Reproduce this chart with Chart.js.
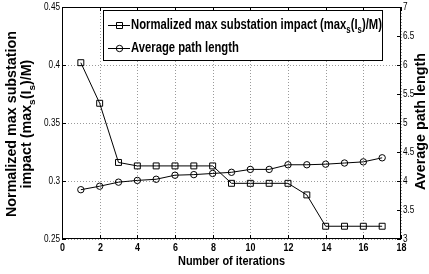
<!DOCTYPE html>
<html>
<head>
<meta charset="utf-8">
<script src="https://cdn.jsdelivr.net/npm/chart.js@4.4.1/dist/chart.umd.min.js"></script>
<style>
  html, body { margin: 0; padding: 0; background: #fff; }
  #wrap { width: 429px; height: 274px; }
</style>
</head>
<body>
<div id="wrap"><canvas id="chart"></canvas></div>
<script>
const iterations = [1, 2, 3, 4, 5, 6, 7, 8, 9, 10, 11, 12, 13, 14, 15, 16, 17];
const maxImpact = [0.402, 0.367, 0.316, 0.313, 0.313, 0.313, 0.313, 0.313, 0.298, 0.298, 0.298, 0.298, 0.288, 0.261, 0.261, 0.261, 0.261];
const pathLength = [3.85, 3.91, 3.98, 4.01, 4.03, 4.10, 4.11, 4.13, 4.15, 4.20, 4.20, 4.28, 4.28, 4.29, 4.31, 4.33, 4.40];
const xRange = [0, 18];
const leftRange = [0.25, 0.45];
const rightRange = [3, 7];

const FAMILY = "'Liberation Sans', Arial, Helvetica, sans-serif";

// parts = [[text, isSubscript], ...]
function richWidth(ctx, parts, size) {
    let w = 0;
    parts.forEach(p => {
        ctx.font = 'bold ' + (p[1] ? size * 0.7 : size) + 'px ' + FAMILY;
        w += ctx.measureText(p[0]).width;
    });
    return w;
}
function richText(ctx, parts, x, y, size) {
    let cx = x;
    ctx.textAlign = 'left';
    ctx.textBaseline = 'middle';
    parts.forEach(p => {
        ctx.font = 'bold ' + (p[1] ? size * 0.7 : size) + 'px ' + FAMILY;
        ctx.fillText(p[0], cx, p[1] ? y + size * 0.33 : y);
        cx += ctx.measureText(p[0]).width;
    });
}
// squeezed text, left/center/right aligned around x
function squeezed(ctx, str, x, y, font, sx, align) {
    ctx.save();
    ctx.translate(x, y);
    ctx.scale(sx, 1);
    ctx.font = font;
    ctx.textAlign = align;
    ctx.textBaseline = 'middle';
    ctx.fillText(str, 0, 0);
    ctx.restore();
}
function fmt(v) { return String(Number(v.toFixed(3))); }

const subLabel = [['impact (max', false], ['s', true], ['(I', false], ['s', true], [')/M)', false]];
const legendRows = [
    { y: 25, marker: 'rect', parts: [['Normalized max substation impact (max', false], ['s', true], ['(I', false], ['s', true], [')/M)', false]] },
    { y: 48, marker: 'circle', parts: [['Average path length', false]] }
];

const dottedGrid = {
    id: 'dottedGrid',
    beforeDatasetsDraw(chart) {
        const ctx = chart.ctx, a = chart.chartArea;
        const xs = chart.scales.x, yl = chart.scales.y;
        ctx.save();
        ctx.strokeStyle = '#9a9a9a';
        ctx.lineWidth = 1;
        ctx.setLineDash([1, 2]);
        ctx.beginPath();
        xs.ticks.forEach(t => {
            const px = Math.round(xs.getPixelForValue(t.value)) + 0.5;
            ctx.moveTo(px, a.top); ctx.lineTo(px, a.bottom);
        });
        yl.ticks.forEach(t => {
            const py = Math.round(yl.getPixelForValue(t.value)) + 0.5;
            ctx.moveTo(a.left, py); ctx.lineTo(a.right, py);
        });
        ctx.stroke();
        ctx.restore();
    }
};

const frame = {
    id: 'frame',
    afterDraw(chart) {
        const ctx = chart.ctx;
        const a = chart.chartArea;
        const xs = chart.scales.x, yl = chart.scales.y, yr = chart.scales.y1;
        ctx.save();
        ctx.strokeStyle = '#000';
        ctx.fillStyle = '#000';
        ctx.lineWidth = 1;
        ctx.strokeRect(a.left + 0.5, a.top + 0.5, a.width - 1, a.height - 1);

        // inward tick marks and tick labels
        ctx.beginPath();
        xs.ticks.forEach(t => {
            const px = Math.round(xs.getPixelForValue(t.value)) + 0.5;
            ctx.moveTo(px, a.bottom); ctx.lineTo(px, a.bottom - 4);
            ctx.moveTo(px, a.top); ctx.lineTo(px, a.top + 4);
            squeezed(ctx, fmt(t.value), px, a.bottom + 9, 'bold 10.5px ' + FAMILY, 0.85, 'center');
        });
        yl.ticks.forEach(t => {
            const py = Math.round(yl.getPixelForValue(t.value)) + 0.5;
            ctx.moveTo(a.left, py); ctx.lineTo(a.left + 4, py);
            squeezed(ctx, fmt(t.value), a.left - 2, py, '10px ' + FAMILY, 0.82, 'right');
        });
        yr.ticks.forEach(t => {
            const py = Math.round(yr.getPixelForValue(t.value)) + 0.5;
            ctx.moveTo(a.right, py); ctx.lineTo(a.right - 4, py);
            squeezed(ctx, fmt(t.value), a.right + 2, py, '10px ' + FAMILY, 0.82, 'left');
        });
        ctx.stroke();

        // legend box
        const lx = 103.5, ly = 10.5, lw = 279, lh = 50;
        ctx.fillStyle = '#fff';
        ctx.fillRect(lx, ly, lw, lh);
        ctx.strokeRect(lx, ly, lw, lh);
        ctx.fillStyle = '#000';
        const lsize = 15;
        const lsx = 251 / richWidth(ctx, legendRows[0].parts, lsize);
        legendRows.forEach(r => {
            ctx.beginPath();
            ctx.moveTo(108, r.y + 0.5); ctx.lineTo(130, r.y + 0.5);
            if (r.marker === 'rect') ctx.rect(116.5, r.y - 2.5, 6, 6);
            else { ctx.moveTo(122.7, r.y + 0.5); ctx.arc(119.5, r.y + 0.5, 3.2, 0, Math.PI * 2); }
            ctx.stroke();
            ctx.save();
            ctx.translate(131, r.y);
            ctx.scale(lsx, 1);
            richText(ctx, r.parts, 0, 0, lsize);
            ctx.restore();
        });

        // left axis title, two lines
        ctx.save();
        ctx.translate(12.5, 124);
        ctx.rotate(-Math.PI / 2);
        ctx.font = 'bold 14px ' + FAMILY;
        const w1 = ctx.measureText('Normalized max substation').width;
        squeezed(ctx, 'Normalized max substation', 0, 0, 'bold 14px ' + FAMILY, 186 / w1, 'center');
        const w2 = richWidth(ctx, subLabel, 14) * 186 / w1;
        ctx.translate(-w2 / 2, 15);
        ctx.scale(186 / w1, 1);
        richText(ctx, subLabel, 0, 0, 14);
        ctx.restore();

        // right axis title
        ctx.save();
        ctx.translate(421, 121.5);
        ctx.rotate(-Math.PI / 2);
        ctx.font = 'bold 14px ' + FAMILY;
        const w3 = ctx.measureText('Average path length').width;
        squeezed(ctx, 'Average path length', 0, 0, 'bold 14px ' + FAMILY, 137 / w3, 'center');
        ctx.restore();

        // x axis title
        ctx.font = 'bold 13px ' + FAMILY;
        const w4 = ctx.measureText('Number of iterations').width;
        squeezed(ctx, 'Number of iterations', 231.5, 261, 'bold 13px ' + FAMILY, 107 / w4, 'center');
        ctx.restore();
    }
};

new Chart(document.getElementById('chart'), {
    type: 'line',
    data: {
        datasets: [
            {
                label: 'Normalized max substation impact',
                data: iterations.map((x, i) => ({ x: x, y: maxImpact[i] })),
                yAxisID: 'y',
                borderColor: '#000', borderWidth: 1,
                pointStyle: 'rect', pointRadius: 4.2,
                pointBorderColor: '#000', pointBackgroundColor: 'rgba(0,0,0,0)', pointBorderWidth: 1,
                tension: 0
            },
            {
                label: 'Average path length',
                data: iterations.map((x, i) => ({ x: x, y: pathLength[i] })),
                yAxisID: 'y1',
                borderColor: '#000', borderWidth: 1,
                pointStyle: 'circle', pointRadius: 3.2,
                pointBorderColor: '#000', pointBackgroundColor: 'rgba(0,0,0,0)', pointBorderWidth: 1,
                tension: 0
            }
        ]
    },
    options: {
        responsive: true, maintainAspectRatio: false, animation: false,
        layout: { padding: { top: 7, left: 0, right: 0, bottom: 0 } },
        plugins: { legend: { display: false }, tooltip: { enabled: false } },
        scales: {
            x: {
                type: 'linear', min: xRange[0], max: xRange[1],
                ticks: { stepSize: 2, display: false },
                grid: { display: false },
                border: { display: false },
                afterFit: s => { s.height = 35; }
            },
            y: {
                position: 'left', min: leftRange[0], max: leftRange[1],
                ticks: { stepSize: 0.05, display: false },
                grid: { display: false },
                border: { display: false },
                afterFit: s => { s.width = 62; }
            },
            y1: {
                position: 'right', min: rightRange[0], max: rightRange[1],
                ticks: { stepSize: 0.5, display: false },
                grid: { display: false },
                border: { display: false },
                afterFit: s => { s.width = 28; }
            }
        }
    },
    plugins: [dottedGrid, frame]
});
</script>
</body>
</html>
